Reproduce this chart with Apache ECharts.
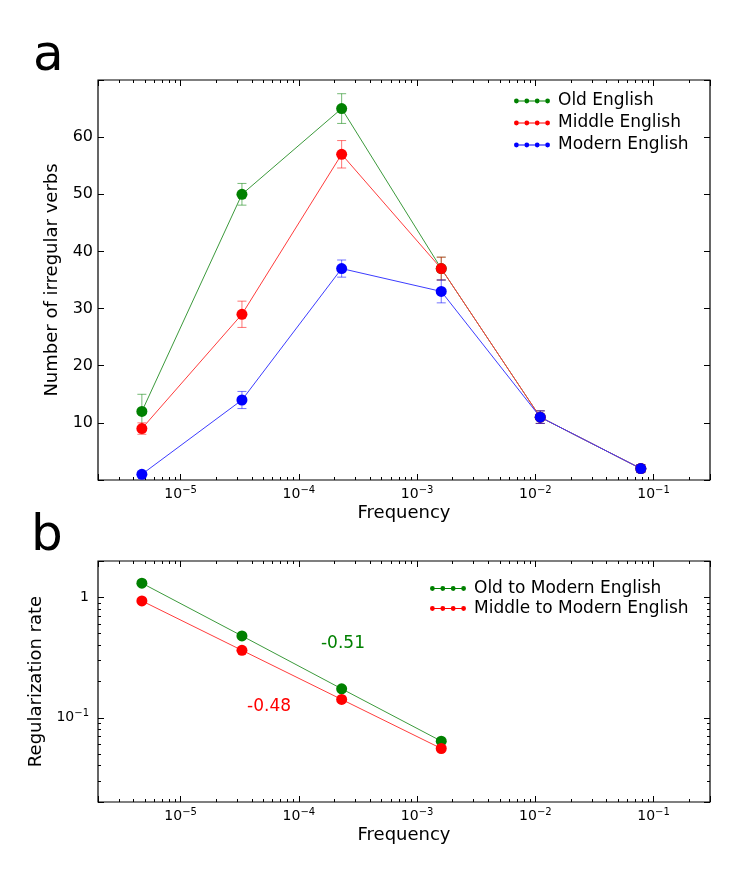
<!DOCTYPE html>
<html><head><meta charset="utf-8">
<script src="https://cdn.jsdelivr.net/npm/echarts@6/dist/echarts.min.js"></script>
<style>html,body{margin:0;padding:0;background:#fff}#c{width:750px;height:891px}</style>
</head><body><div id="c"></div>
<script>
// ---------- data ----------
const frequency = [4.7e-6, 3.3e-5, 2.3e-4, 1.6e-3, 1.1e-2, 7.8e-2];
const oldEnglish = [12, 50, 65, 37, 11, 2];
const middleEnglish = [9, 29, 57, 37, 11, 2];
const modernEnglish = [1, 14, 37, 33, 11, 2];
const oldErr = [3, 1.9, 2.6, 2, 1.1, 0.7];
const middleErr = [1, 2.3, 2.4, 2, 1.1, 0.7];
const modernErr = [0.5, 1.5, 1.5, 2, 1.1, 0.7];
const rateFrequency = [4.7e-6, 3.3e-5, 2.3e-4, 1.6e-3];
const oldToModern = [1.31, 0.478, 0.174, 0.064];
const middleToModern = [0.933, 0.363, 0.142, 0.0556];
const slopeLabels = ['-0.51', '-0.48'];
const slopeLabelPos = [[2.36e-4, 0.41], [5.6e-5, 0.1235]];
const seriesNamesA = ['Old English', 'Middle English', 'Modern English'];
const seriesNamesB = ['Old to Modern English', 'Middle to Modern English'];
const xRange = [2e-6, 0.3];
const countRange = [0, 70];
const rateRange = [0.02, 2];

// ---------- helpers ----------
const FONT = 'DejaVu Sans';
const GREEN = '#008000', RED = '#ff0000', BLUE = '#0000ff';
const LINE_COLORS = { [GREEN]: '#3c9a3c', [RED]: '#ff3c3c', [BLUE]: '#3c3cff' };
const pair = (xs, ys) => xs.map((x, i) => [x, ys[i]]);
function minorLogTicks(lo, hi) {
  const out = [];
  for (let e = Math.floor(Math.log10(lo)) - 1; e <= Math.ceil(Math.log10(hi)); e++) {
    for (let m = 2; m <= 9; m++) {
      const l = Math.log10(m) + e;
      if (l >= Math.log10(lo) - 1e-9 && l <= Math.log10(hi) + 1e-9) out.push(l);
    }
  }
  return out;
}
const xMinor = minorLogTicks(xRange[0], xRange[1]);
const yMinor = minorLogTicks(rateRange[0], rateRange[1]);
function powLabel(v) {
  const l = Math.log10(v), e = Math.round(l);
  if (Math.abs(l - e) > 1e-6) return '';
  if (e === 0) return '{b|1}';
  return '{b|10}{s|' + (e < 0 ? '\u2212' + (-e) : e) + '}';
}
const rich = {
  b: { fontSize: 14, fontFamily: FONT, color: '#000', lineHeight: 18 },
  s: { fontSize: 10, fontFamily: FONT, color: '#000', lineHeight: 10, verticalAlign: 'top' }
};
const tickStyle = { color: '#000', width: 1 };
const noLine = { show: false, onZero: false };
function majorLogX(grid, pos, labels) {
  return {
    type: 'log', logBase: 10, gridIndex: grid, position: pos, min: xRange[0], max: xRange[1],
    axisLine: noLine, splitLine: { show: false },
    axisTick: { show: true, inside: true, length: 6, lineStyle: tickStyle },
    axisLabel: labels ? { show: true, margin: 5, formatter: powLabel, rich: rich } : { show: false },
    name: labels ? 'Frequency' : '', nameLocation: 'middle', nameGap: 24,
    nameTextStyle: { fontSize: 18, fontFamily: FONT, color: '#000' }
  };
}
function minorX(grid, pos) {
  return {
    type: 'value', gridIndex: grid, position: pos, min: Math.log10(xRange[0]), max: Math.log10(xRange[1]),
    axisLine: noLine, splitLine: { show: false }, axisLabel: { show: false },
    axisTick: { show: true, inside: true, length: 3, lineStyle: tickStyle, customValues: xMinor }
  };
}
function errSeries(vals, errs, color) {
  return {
    type: 'custom', xAxisIndex: 0, yAxisIndex: 0, z: 1, silent: true,
    data: frequency.map((f, i) => [f, vals[i] - errs[i], vals[i] + errs[i]]),
    encode: { x: 0, y: [1, 2] },
    renderItem(params, api) {
      const lo = api.coord([api.value(0), api.value(1)]);
      const hi = api.coord([api.value(0), api.value(2)]);
      const w = 4.5;
      const st = { stroke: color, lineWidth: 1, opacity: 0.55 };
      return { type: 'group', children: [
        { type: 'line', shape: { x1: lo[0], y1: lo[1], x2: hi[0], y2: hi[1] }, style: st },
        { type: 'line', shape: { x1: lo[0] - w, y1: lo[1], x2: lo[0] + w, y2: lo[1] }, style: st },
        { type: 'line', shape: { x1: hi[0] - w, y1: hi[1], x2: hi[0] + w, y2: hi[1] }, style: st }
      ]};
    }
  };
}
function lineSeries(name, xs, ys, color, xi, yi, extra) {
  return Object.assign({
    type: 'line', name: name, xAxisIndex: xi, yAxisIndex: yi, z: 3,
    data: pair(xs, ys), symbol: 'circle', symbolSize: 11,
    itemStyle: { color: color, borderWidth: 0 }, lineStyle: { color: LINE_COLORS[color], width: 1 }
  }, extra || {});
}
// legend glyph: four dots joined by a line (all sub-paths clockwise so they fill solidly)
const legendIcon = 'path://M2.4,1.9H33.6V2.9H2.4Z' +
  'M0,2.4A2.4,2.4,0,1,1,4.8,2.4A2.4,2.4,0,1,1,0,2.4Z' +
  'M10.4,2.4A2.4,2.4,0,1,1,15.2,2.4A2.4,2.4,0,1,1,10.4,2.4Z' +
  'M20.8,2.4A2.4,2.4,0,1,1,25.6,2.4A2.4,2.4,0,1,1,20.8,2.4Z' +
  'M31.2,2.4A2.4,2.4,0,1,1,36,2.4A2.4,2.4,0,1,1,31.2,2.4Z';
function legend(names, colors, left, top, gap) {
  return {
    data: names.map((n, i) => ({ name: n, itemStyle: { color: colors[i], borderWidth: 0, opacity: 1 } })),
    orient: 'vertical', left: left, top: top, padding: 0, itemGap: gap,
    icon: legendIcon, itemWidth: 36, itemHeight: 4.8, selectedMode: false,
    itemStyle: { borderWidth: 0 }, lineStyle: { width: 0, opacity: 0 },
    textStyle: { fontSize: 17, fontFamily: FONT, color: '#000', lineHeight: 20, padding: [0, 0, 0, 3] }
  };
}

const chart = echarts.init(document.getElementById('c'), null, { renderer: 'canvas' });
chart.setOption({
  animation: false,
  backgroundColor: '#fff',
  grid: [
    { left: 98, top: 80, width: 612, height: 400, show: true, borderColor: '#000', borderWidth: 1.2, containLabel: false },
    { left: 98, top: 561, width: 612, height: 241, show: true, borderColor: '#000', borderWidth: 1.2, containLabel: false }
  ],
  xAxis: [
    majorLogX(0, 'bottom', true), minorX(0, 'bottom'), majorLogX(0, 'top', false), minorX(0, 'top'),
    majorLogX(1, 'bottom', true), minorX(1, 'bottom'), majorLogX(1, 'top', false), minorX(1, 'top')
  ],
  yAxis: [
    { type: 'value', gridIndex: 0, position: 'left', min: countRange[0], max: countRange[1], interval: 10,
      axisLine: noLine, splitLine: { show: false },
      axisTick: { show: true, inside: true, length: 6, lineStyle: tickStyle },
      axisLabel: { margin: 5, fontSize: 16, fontFamily: FONT, color: '#000',
        formatter: v => (v === countRange[0] || v === countRange[1]) ? '' : String(v) },
      name: 'Number of irregular verbs', nameLocation: 'middle', nameGap: 28, nameRotate: 90,
      nameTextStyle: { fontSize: 18, fontFamily: FONT, color: '#000' } },
    { type: 'value', gridIndex: 0, position: 'right', min: countRange[0], max: countRange[1], interval: 10,
      axisLine: noLine, splitLine: { show: false }, axisLabel: { show: false },
      axisTick: { show: true, inside: true, length: 6, lineStyle: tickStyle } },
    { type: 'log', logBase: 10, gridIndex: 1, position: 'left', min: rateRange[0], max: rateRange[1],
      axisLine: noLine, splitLine: { show: false },
      axisTick: { show: true, inside: true, length: 6, lineStyle: tickStyle },
      axisLabel: { margin: 9, formatter: powLabel, rich: rich },
      name: 'Regularization rate', nameLocation: 'middle', nameGap: 36, nameRotate: 90,
      nameTextStyle: { fontSize: 18, fontFamily: FONT, color: '#000' } },
    { type: 'log', logBase: 10, gridIndex: 1, position: 'right', min: rateRange[0], max: rateRange[1],
      axisLine: noLine, splitLine: { show: false }, axisLabel: { show: false },
      axisTick: { show: true, inside: true, length: 6, lineStyle: tickStyle } },
    { type: 'value', gridIndex: 1, position: 'left', min: Math.log10(rateRange[0]), max: Math.log10(rateRange[1]),
      axisLine: noLine, splitLine: { show: false }, axisLabel: { show: false },
      axisTick: { show: true, inside: true, length: 3, lineStyle: tickStyle, customValues: yMinor } },
    { type: 'value', gridIndex: 1, position: 'right', min: Math.log10(rateRange[0]), max: Math.log10(rateRange[1]),
      axisLine: noLine, splitLine: { show: false }, axisLabel: { show: false },
      axisTick: { show: true, inside: true, length: 3, lineStyle: tickStyle, customValues: yMinor } }
  ],
  legend: [
    legend(seriesNamesA, [GREEN, RED, BLUE], 514, 91, 2),
    legend(seriesNamesB, [GREEN, RED], 430, 578.5, 0)
  ],
  series: [
    errSeries(oldEnglish, oldErr, GREEN),
    errSeries(middleEnglish, middleErr, RED),
    errSeries(modernEnglish, modernErr, BLUE),
    lineSeries(seriesNamesA[0], frequency, oldEnglish, GREEN, 0, 0),
    lineSeries(seriesNamesA[1], frequency, middleEnglish, RED, 0, 0),
    lineSeries(seriesNamesA[2], frequency, modernEnglish, BLUE, 0, 0),
    lineSeries(seriesNamesB[0], rateFrequency, oldToModern, GREEN, 4, 2, {
      markPoint: { symbol: 'circle', symbolSize: 0, silent: true,
        label: { show: true, position: 'inside', formatter: slopeLabels[0], color: GREEN, fontSize: 17, fontFamily: FONT },
        data: [{ coord: slopeLabelPos[0] }] } }),
    lineSeries(seriesNamesB[1], rateFrequency, middleToModern, RED, 4, 2, {
      markPoint: { symbol: 'circle', symbolSize: 0, silent: true,
        label: { show: true, position: 'inside', formatter: slopeLabels[1], color: RED, fontSize: 17, fontFamily: FONT },
        data: [{ coord: slopeLabelPos[1] }] } })
  ],
  graphic: [
    { type: 'text', x: 33, y: 57, style: { text: 'a', font: '50px "DejaVu Sans"', fill: '#000', verticalAlign: 'middle', align: 'left' } },
    { type: 'text', x: 31, y: 537, style: { text: 'b', font: '50px "DejaVu Sans"', fill: '#000', verticalAlign: 'middle', align: 'left' } }
  ]
});
</script>
</body></html>
